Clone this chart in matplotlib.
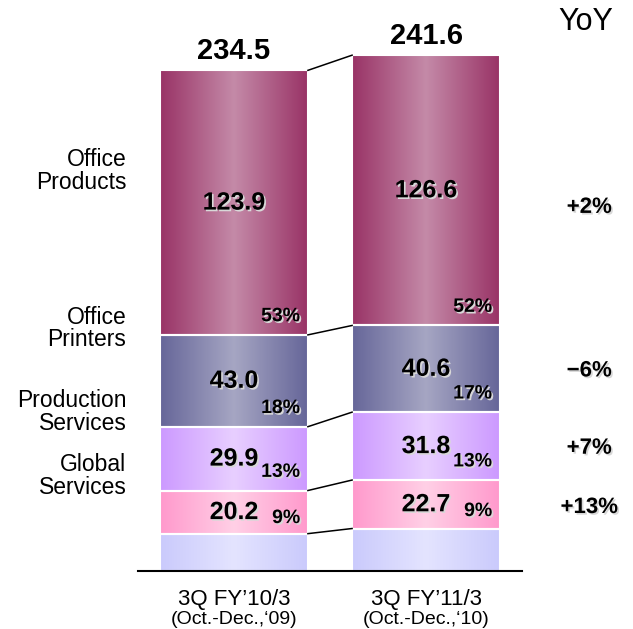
import numpy as np
import matplotlib
matplotlib.use("Agg")
import matplotlib.pyplot as plt
import matplotlib.patheffects as pe
from matplotlib.colors import LinearSegmentedColormap
from matplotlib.patches import Rectangle

# Data (bottom -> top)
segments = ["Other", "Global\nServices", "Production\nServices", "Office\nPrinters", "Office\nProducts"]
periods = ["3Q FY\u201910/3", "3Q FY\u201911/3"]
period_sub = ["(Oct.-Dec.,\u201809)", "(Oct.-Dec.,\u201810)"]
values_fy10 = [17.5, 20.2, 29.9, 43.0, 123.9]
values_fy11 = [19.9, 22.7, 31.8, 40.6, 126.6]
totals = [234.5, 241.6]
shares_fy10 = ["", "9%", "13%", "18%", "53%"]
shares_fy11 = ["", "9%", "13%", "17%", "52%"]
yoy = ["", "+13%", "+7%", "\u22126%", "+2%"]

# gradient colours per segment: (edge, centre)
seg_colors = [("#CACAFC", "#E4E4FF"),
              ("#FF99CC", "#FFD0E6"),
              ("#CC99FF", "#E8CFFF"),
              ("#666699", "#A6A6C3"),
              ("#993366", "#C48AA8")]

font = "Liberation Sans"

fig = plt.figure(figsize=(6.33, 6.29), dpi=100)
ax = fig.add_axes([0, (629 - 571) / 629, 1, 571 / 629])
ax.set_xlim(-234 / 192, (633 - 234) / 192)
ax.set_ylim(0, 571 / 2.135)
ax.axis("off")

width = 0.77
shadow = [pe.SimplePatchShadow(offset=(1.2, -1.2), shadow_rgbFace="#d8d8d8", alpha=1.0), pe.Normal()]
grad = np.linspace(0, 1, 256).reshape(1, -1)

all_values = [values_fy10, values_fy11]
all_shares = [shares_fy10, shares_fy11]
tops = []
for i, vals in enumerate(all_values):
    x0, x1 = i - width / 2, i + width / 2
    bottom = 0
    bar_tops = []
    for j, v in enumerate(vals):
        cmap = LinearSegmentedColormap.from_list("g", [seg_colors[j][0], seg_colors[j][1], seg_colors[j][0]])
        ax.imshow(grad, extent=[x0, x1, bottom, bottom + v], cmap=cmap, aspect="auto",
                  interpolation="bicubic", zorder=1)
        ax.add_patch(Rectangle((x0, bottom), width, v, facecolor="none", edgecolor="white", lw=1.5, zorder=2))
        if j > 0:
            ax.text(i, bottom + v / 2, f"{v:.1f}", ha="center", va="center", fontsize=18,
                    fontweight="bold", family=font, zorder=4, path_effects=shadow)
            ax.text(x1 - 0.04, bottom + min(8.5, v * 0.35), all_shares[i][j], ha="right", va="center",
                    fontsize=14, fontweight="bold", family=font, zorder=4, path_effects=shadow)
        bottom += v
        bar_tops.append(bottom)
    tops.append(bar_tops)
    ax.text(i, totals[i] + 9, f"{totals[i]:.1f}", ha="center", va="center", fontsize=21,
            fontweight="bold", family=font)

# connecting lines between bars
for a, b in zip(tops[0], tops[1]):
    ax.plot([width / 2, 1 - width / 2], [a, b], color="black", lw=1.1, zorder=3)

# baseline
ax.plot([-0.5, 1.5], [0, 0], color="black", lw=1.5, zorder=3, clip_on=False)

# segment names on the left
label_y = [None, 44.6, 74.6, 113.6, 187.3]
for name, y in zip(segments, label_y):
    if y is None:
        continue
    ax.text(-0.56, y, name, ha="right", va="center", fontsize=16.5, family=font, linespacing=0.98)

# YoY column
ax.text(1.83, 257, "YoY", ha="center", va="center", fontsize=22, family=font)
yoy_offset = [0, -1.5, -1, -1, -8]
bottom = 0
for j, v in enumerate(values_fy11):
    if yoy[j]:
        ax.text(1.85, bottom + v / 2 + yoy_offset[j], yoy[j], ha="center", va="center", fontsize=16,
                fontweight="bold", family=font, path_effects=shadow)
    bottom += v

# period labels below
for i in range(2):
    ax.text(i, -15.9, periods[i], ha="center", va="baseline", fontsize=16, family=font, clip_on=False)
    ax.text(i, -25.0, period_sub[i], ha="center", va="baseline", fontsize=14, family=font, clip_on=False)

fig.savefig("out.png", dpi=100)
